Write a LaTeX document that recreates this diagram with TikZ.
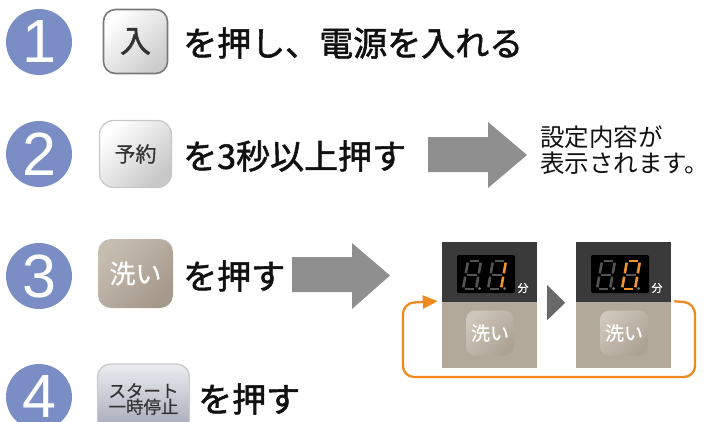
\documentclass[tikz,border=0pt]{standalone}
\usepackage{fontspec}
\setmainfont{Noto Sans CJK JP}
\newfontfamily\jpmid{Noto Sans CJK JP}[FakeBold=1.6]
\newfontfamily\jplite{Noto Sans CJK JP}[FakeBold=0.6]
\newfontfamily\numfont{Liberation Sans}
\usetikzlibrary{arrows.meta}
\definecolor{numblue}{HTML}{7B8DC5}
\definecolor{bigarrow}{HTML}{8F8F8F}
\definecolor{paneldark}{HTML}{3A3A3A}
\definecolor{panelbeige}{HTML}{B3A99A}
\definecolor{loopor}{HTML}{EE8A1F}
\definecolor{trigray}{HTML}{686868}
\definecolor{segoff}{HTML}{555555}
\definecolor{segon}{HTML}{F2942C}
\definecolor{txt}{HTML}{111111}
\definecolor{btxt}{HTML}{333333}
\newcommand\segdig[9]{%
  \begin{scope}[shift={(#1,#2)}]
    \coordinate (BL) at (0,0);
    \coordinate (BR) at (13,0);
    \coordinate (ML) at (2.5,-14);
    \coordinate (MR) at (15.5,-14);
    \coordinate (TL) at (5,-28);
    \coordinate (TR) at (18,-28);
    \draw[seg,draw=#3] (TL)--(TR);
    \draw[seg,draw=#4] (TR)--(MR);
    \draw[seg,draw=#5] (MR)--(BR);
    \draw[seg,draw=#6] (BL)--(BR);
    \draw[seg,draw=#7] (ML)--(BL);
    \draw[seg,draw=#8] (TL)--(ML);
    \draw[seg,draw=#9] (ML)--(MR);
    \fill[segoff!80!white] (16.5,-0.5) circle (1.5);
  \end{scope}}
\tikzset{
  numcirc/.style={circle, fill=numblue, minimum size=66pt, inner sep=0pt, text=white,
    font=\numfont\fontsize{61}{61}\selectfont},
  maintext/.style={anchor=west, inner sep=0pt, text=txt, font=\jpmid\fontsize{34}{34}\selectfont},
  btnA/.style={rounded corners=12pt, minimum width=64pt, minimum height=64pt, draw=gray!95!black, line width=1.6pt,
    top color=white, bottom color=black!20, shading angle=45, text=btxt,
    font=\jpmid\fontsize{31}{31}\selectfont},
  btnB/.style={rounded corners=14pt, minimum width=72pt, minimum height=67pt, draw=black!22, line width=1.2pt,
    top color=white, bottom color=black!22, shading angle=45, text=btxt,
    font=\jplite\fontsize{21}{21}\selectfont},
  btnC/.style={rounded corners=13pt, minimum width=75pt, minimum height=69pt,
    top color={rgb,255:red,198;green,189;blue,177}, bottom color={rgb,255:red,164;green,153;blue,139}, shading angle=45, text=white,
    font=\jplite\fontsize{26}{26}\selectfont},
  btnD/.style={rounded corners=13pt, minimum width=92pt, minimum height=70pt, draw=black!20, line width=1.4pt,
    top color={rgb,255:red,236;green,237;blue,242}, bottom color={rgb,255:red,160;green,163;blue,178}, text=btxt,
    align=center, font=\jplite\fontsize{17.5}{18}\selectfont},
  ptop/.style={fill=paneldark, minimum width=95pt, minimum height=60pt, inner sep=0pt},
  pbot/.style={fill=panelbeige, minimum width=95pt, minimum height=66pt, inner sep=0pt},
  disp/.style={fill=black, rounded corners=2pt, minimum width=58pt, minimum height=38pt, inner sep=0pt},
  pbtn/.style={rounded corners=9pt, minimum width=48pt, minimum height=45pt, inner sep=0pt,
    top color={rgb,255:red,206;green,198;blue,186}, bottom color={rgb,255:red,172;green,162;blue,148}, shading angle=45,
    text=white, font=\jplite\fontsize{19}{19}\selectfont},
  fen/.style={text=white, inner sep=0pt, font=\jplite\fontsize{11}{11}\selectfont},
  seg/.style={line width=2.6pt, shorten <=1.7pt, shorten >=1.7pt},
  bigarr/.style={fill=bigarrow},
  loopline/.style={draw=loopor, line width=2.3pt, rounded corners=11pt},
}
\begin{document}
\begin{tikzpicture}[x=1pt,y=-1pt]
\useasboundingbox (0,0) rectangle (714,421);
\begin{scope}
\clip (0,0) rectangle (714,421);
% step numbers
\node[numcirc] (n1) at (39,42) {1};
\node[numcirc] (n2) at (39,154) {2};
\node[numcirc] (n3) at (39,276) {3};
\node[numcirc] (n4) at (39,397) {4};
% buttons
\node[btnA] (b1) at (135.5,41.5) {入};
\node[btnB] (b2) at (135.5,154) {予約};
\node[btnC] (b3) at (135.5,273.5) {洗い};
\node[btnD] (b4) at (143.5,399) {スタート\\[-2pt]一時停止};
\end{scope}
% texts
\node[maintext] (t1) at (183,43) {を押し、電源を入れる};
\node[maintext] (t2) at (183,156) {を3秒以上押す};
\node[maintext] (t3) at (183,276) {を押す};
\node[maintext] (t4) at (198,399) {を押す};
\node[anchor=west, inner sep=0pt, align=left, text=txt, font=\fontsize{24.5}{26}\selectfont] (res) at (540,150) {設定内容が\\表示されます。};
% big arrows
\fill[bigarr] (428,137) -- (488,137) -- (488,122) -- (527,155) -- (488,188) -- (488,172) -- (428,172) -- cycle;
\fill[bigarr] (292,257) -- (352,257) -- (352,243) -- (390,275.5) -- (352,309) -- (352,292) -- (292,292) -- cycle;
% panels
\node[ptop] (p1t) at (489.5,272) {};
\node[pbot] (p1b) at (489.5,335) {};
\node[ptop] (p2t) at (623.5,272) {};
\node[pbot] (p2b) at (623.5,335) {};
\node[disp] (d1) at (486,274) {};
\node[disp] (d2) at (620,274) {};
\node[fen] (f1) at (523,288) {分};
\node[fen] (f2) at (657,288) {分};
\node[pbtn] (pb1) at (490,333) {洗い};
\node[pbtn] (pb2) at (624,333) {洗い};
\segdig{463}{289}{segoff}{segoff}{segoff}{segoff}{segoff}{segoff}{segoff}
\segdig{488}{289}{segoff}{segon}{segon}{segoff}{segoff}{segoff}{segoff}
\segdig{597}{289}{segoff}{segoff}{segoff}{segoff}{segoff}{segoff}{segoff}
\segdig{622}{289}{segon}{segon}{segon}{segon}{segon}{segon}{segoff}
% triangle between panels
\fill[trigray] (p1t.south east) ++(10,-17) -- ++(0,35) -- ++(18,-17.5) -- cycle;
% orange loop
\coordinate (ls) at ([xshift=3pt,yshift=1pt]p2t.south east);
\coordinate (le) at ([xshift=-4pt,yshift=1pt]p1t.south west);
\draw[loopline, -{Triangle[length=15pt,width=13pt]}] (ls) -- (695,303) -- (695,377) -- (403,377) -- (403,303) -- (le);
\end{tikzpicture}
\end{document}
